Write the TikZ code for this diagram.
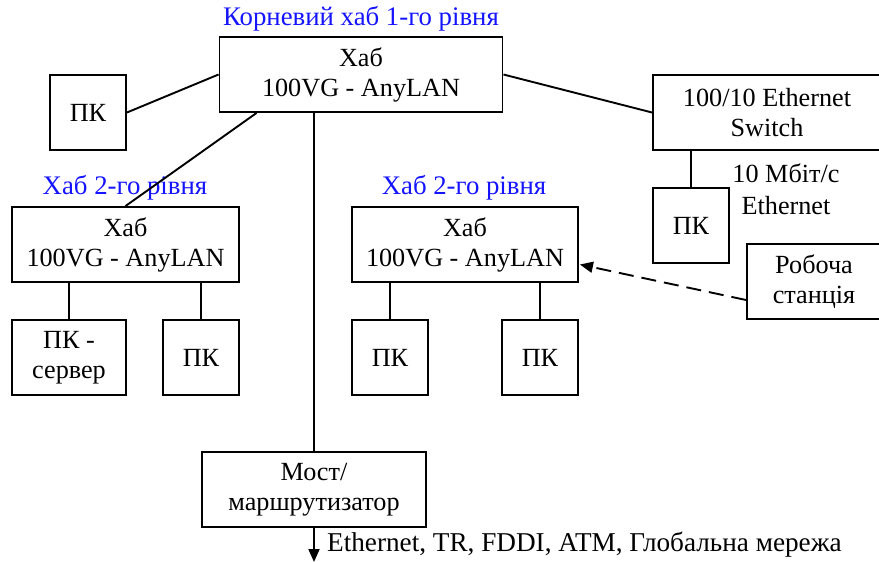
\documentclass[tikz,border=0pt]{standalone}
\usepackage{fontspec}
\setmainfont{Liberation Serif}
\newfontfamily\labelserif{Liberation Serif}
\usetikzlibrary{arrows.meta,calc}
\definecolor{lblblue}{RGB}{20,20,255}
\begin{document}
\begin{tikzpicture}[x=1pt,y=-1pt,
  every node/.style={font=\labelserif\fontsize{26.2}{30}\selectfont},
  box/.style={draw,line width=1.9pt,inner sep=0pt,align=center,
    minimum height=75pt},
  pc/.style={box,minimum width=76pt},
  link/.style={line width=1.9pt},
  caption/.style={text=lblblue,inner sep=0pt,
    font=\labelserif\fontsize{26.8}{30}\selectfont},
  tip/.style={-{Triangle[length=13pt,width=11pt]}}
]
\useasboundingbox (0,0) rectangle (879,562);

% hubs and switch
\node[box,minimum width=283pt] (root) at (361,74.5) {Хаб\\100VG - AnyLAN};
\node[box,minimum width=227pt] (hubL) at (125.5,244.5) {Хаб\\100VG - AnyLAN};
\node[box,minimum width=226pt] (hubM) at (465,244.5) {Хаб\\100VG - AnyLAN};
\node[box,minimum width=228pt] (sw) at (767,112.5) {100/10 Ethernet\\Switch};
\node[box,minimum width=134pt] (ws) at (814,281.5) {Робоча\\станція};
\node[box,minimum width=224pt] (bridge) at (314,489.5) {Мост/\\маршрутизатор};

% workstations
\node[pc] (pk0) at (88,112.5) {ПК};
\node[pc] (pksw) at (691,225.5) {ПК};
\node[box,minimum width=114pt] (pksrv) at (69,357.5) {ПК -\\сервер};
\node[pc] (pkL2) at (201,357.5) {ПК};
\node[pc] (pkM1) at (390,357.5) {ПК};
\node[pc] (pkM2) at (540,357.5) {ПК};

% captions
\node[caption] (capRoot) at (361,19) {Корневий хаб 1-го рівня};
\node[caption] (capL) at (125,188) {Хаб 2-го рівня};
\node[caption] (capM) at (464,188) {Хаб 2-го рівня};
\node[align=center,inner sep=0pt,font=\labelserif\fontsize{26.2}{32}\selectfont]
  (speed) at (786,189) {10 Мбіт/с\\Ethernet};

% links
\draw[link] (pk0.east) -- (root.west);
\draw[link] (root.east) -- (sw.west);
\draw[link] ($(root.south west)+(38,0)$) -- (hubL.north);
\draw[link] (bridge.north |- root.south) -- (bridge.north);
\draw[link] ($(hubM.north west)+(75,0)$ |- root.south) -- ($(hubM.north west)+(75,0)$);
\draw[link] (pksrv.north |- hubL.south) -- (pksrv.north);
\draw[link] (pkL2.north |- hubL.south) -- (pkL2.north);
\draw[link] (pkM1.north |- hubM.south) -- (pkM1.north);
\draw[link] (pkM2.north |- hubM.south) -- (pkM2.north);
\draw[link] (pksw.north |- sw.south) -- (pksw.north);
\draw[link] ($(ws.north west)+(95,0)$ |- sw.south) -- ($(ws.north west)+(95,0)$);
\draw[link,tip,dash pattern=on 15pt off 8pt]
  ($(ws.west)+(0,18.5)$) -- ($(hubM.east)+(1,20)$);

% uplink of the bridge
\coordinate (wan) at (314,562);
\draw[link,tip] (bridge.south) -- (wan);
\node[anchor=west,inner sep=0pt,font=\labelserif\fontsize{27.2}{30}\selectfont]
  (wanlbl) at (327,545) {Ethernet, TR, FDDI, ATM, Глобальна мережа};
\end{tikzpicture}
\end{document}
